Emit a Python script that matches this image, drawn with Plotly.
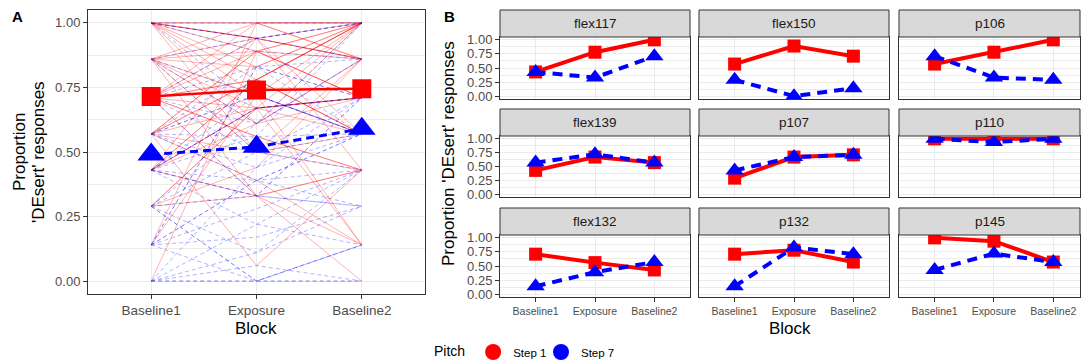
import plotly.graph_objects as go

W, H = 1082, 362
FONT = "Liberation Sans"

blocks = ["Baseline1", "Exposure", "Baseline2"]
y_ticks = [0, 0.25, 0.5, 0.75, 1.0]
y_tick_labels = ["0.00", "0.25", "0.50", "0.75", "1.00"]
pitch_labels = ["Step 1", "Step 7"]

# Panel A: group means
mean_step1 = [0.715, 0.74, 0.745]
mean_step7 = [0.49, 0.52, 0.59]

# Panel A: individual participants (Baseline1, Exposure, Baseline2)
indiv_step1 = [
    [1.00, 1.00, 1.00], [1.00, 0.94, 1.00], [1.00, 0.89, 0.86], [1.00, 0.78, 0.57],
    [1.00, 0.61, 0.71], [1.00, 0.94, 0.86], [1.00, 0.83, 1.00], [1.00, 0.50, 0.43],
    [0.86, 1.00, 1.00], [0.86, 0.89, 0.71], [0.86, 0.72, 1.00], [0.86, 0.61, 0.86],
    [0.86, 0.50, 0.57], [0.86, 0.94, 0.43], [0.86, 0.33, 0.14], [0.86, 0.83, 1.00],
    [0.86, 0.67, 0.14], [0.71, 0.89, 1.00], [0.71, 0.78, 0.57], [0.71, 0.56, 0.43],
    [0.71, 0.94, 0.86], [0.71, 0.67, 0.71], [0.71, 1.00, 0.86], [0.57, 0.06, 0.43],
    [0.57, 0.89, 0.71], [0.57, 0.78, 1.00], [0.57, 0.50, 0.86], [0.57, 0.39, 0.14],
    [0.57, 0.67, 1.00], [0.43, 0.78, 1.00], [0.43, 0.67, 0.71], [0.43, 0.94, 0.86],
    [0.43, 0.33, 0.43], [0.43, 0.61, 1.00], [0.29, 0.67, 0.71], [0.29, 0.33, 0.43],
    [0.29, 0.44, 0.86], [0.14, 1.00, 0.86], [0.14, 0.72, 0.57], [0.00, 0.89, 1.00],
    [0.71, 0.33, 0.00], [1.00, 0.72, 0.14],
]
indiv_step7 = [
    [1.00, 1.00, 1.00], [1.00, 0.94, 1.00], [1.00, 0.89, 0.86], [0.86, 0.72, 0.57],
    [0.86, 0.50, 0.71], [0.86, 0.94, 1.00], [0.71, 0.61, 0.86], [0.71, 0.50, 0.43],
    [0.71, 0.83, 0.57], [0.57, 0.72, 0.57], [0.57, 0.44, 0.71], [0.57, 0.39, 0.29],
    [0.57, 0.83, 0.86], [0.43, 0.56, 0.57], [0.43, 0.33, 0.71], [0.43, 0.67, 0.71],
    [0.43, 0.22, 0.14], [0.43, 0.39, 0.43], [0.29, 0.11, 0.43], [0.29, 0.50, 0.57],
    [0.29, 0.00, 0.14], [0.29, 0.33, 0.29], [0.29, 0.61, 0.86], [0.14, 0.39, 0.57],
    [0.14, 0.17, 0.29], [0.14, 0.00, 0.00], [0.14, 0.83, 0.71], [0.14, 0.28, 0.43],
    [0.00, 0.00, 0.00], [0.00, 0.00, 0.14], [0.00, 0.11, 0.29], [0.00, 0.22, 0.43],
    [0.00, 0.44, 0.57], [0.00, 0.06, 0.00], [0.86, 0.61, 1.00], [1.00, 0.67, 0.71],
    [0.71, 0.94, 0.86], [0.57, 0.56, 1.00],
]

# Panel B: selected participants
facet_names = ["flex117", "flex150", "p106",
               "flex139", "p107", "p110",
               "flex132", "p132", "p145"]
facet_step1 = [
    [0.43, 0.78, 1.00], [0.57, 0.89, 0.71], [0.57, 0.78, 1.00],
    [0.43, 0.67, 0.57], [0.29, 0.67, 0.71], [1.00, 1.00, 1.00],
    [0.71, 0.56, 0.43], [0.71, 0.78, 0.57], [1.00, 0.94, 0.57],
]
facet_step7 = [
    [0.43, 0.33, 0.71], [0.29, 0.00, 0.14], [0.71, 0.33, 0.29],
    [0.57, 0.72, 0.57], [0.43, 0.67, 0.71], [1.00, 0.94, 1.00],
    [0.14, 0.39, 0.57], [0.14, 0.83, 0.71], [0.43, 0.72, 0.57],
]

RED = "#FF0000"
BLUE = "#0000FF"
GRID = "#EBEBEB"
BORDER = "#333333"
TICKC = "#4D4D4D"


def fx(px):
    return px / W


def fy(py):
    return 1 - py / H


fig = go.Figure()


def joined(rows):
    xs, ys = [], []
    for r in rows:
        xs += blocks + [None]
        ys += list(r) + [None]
    return xs, ys


# ---- Panel A ----
all1 = indiv_step1 + facet_step1
all7 = indiv_step7 + facet_step7
xs, ys = joined(all1)
fig.add_trace(go.Scatter(x=xs, y=ys, mode="lines", xaxis="x", yaxis="y",
                         line=dict(color="rgba(255,0,0,0.3)", width=1.0),
                         showlegend=False, hoverinfo="skip"))
xs, ys = joined(all7)
fig.add_trace(go.Scatter(x=xs, y=ys, mode="lines", xaxis="x", yaxis="y",
                         line=dict(color="rgba(0,0,255,0.3)", width=1.0, dash="4px,3px"),
                         showlegend=False, hoverinfo="skip"))
fig.add_trace(go.Scatter(x=blocks, y=mean_step1, mode="lines+markers", xaxis="x", yaxis="y",
                         line=dict(color=RED, width=2.6),
                         marker=dict(symbol="square", size=19, color=RED),
                         showlegend=False))
fig.add_trace(go.Scatter(x=blocks, y=mean_step7, mode="lines+markers", xaxis="x", yaxis="y",
                         line=dict(color=BLUE, width=3, dash="8px,5px"),
                         marker=dict(symbol="triangle-up", size=24, color=BLUE),
                         showlegend=False))

layout = dict(
    width=W, height=H, margin=dict(l=0, r=0, t=0, b=0, autoexpand=False),
    paper_bgcolor="white", plot_bgcolor="white",
    font=dict(family=FONT, color="black"),
)


def yax(domain, show_labels, size):
    return dict(domain=domain, range=[-0.05, 1.05], tickvals=y_ticks, ticktext=y_tick_labels,
                showticklabels=show_labels, ticks="outside" if show_labels else "",
                ticklen=4, tickwidth=1, tickcolor=BORDER,
                tickfont=dict(size=size, color=TICKC, family=FONT),
                showgrid=True, gridcolor=GRID, gridwidth=1.1,
                minor=dict(tickvals=[0.125, 0.375, 0.625, 0.875], showgrid=True,
                           gridcolor=GRID, gridwidth=0.6, ticks=""),
                showline=True, mirror=True, linecolor=BORDER, linewidth=1,
                zeroline=False, fixedrange=True)


def xax(domain, anchor, rng, show_labels, size):
    return dict(domain=domain, anchor=anchor, type="category", categoryorder="array",
                categoryarray=blocks, range=rng,
                showticklabels=show_labels, ticks="outside" if show_labels else "",
                ticklen=4, tickwidth=1, tickcolor=BORDER,
                tickfont=dict(size=size, color=TICKC, family=FONT),
                showgrid=True, gridcolor=GRID, gridwidth=1.1,
                showline=True, mirror=True, linecolor=BORDER, linewidth=1,
                zeroline=False, fixedrange=True)


layout["xaxis"] = xax([fx(88), fx(425)], "y", [-0.6, 2.6], True, 13.5)
layout["yaxis"] = yax([fy(294), fy(10)], True, 13)
layout["yaxis"]["anchor"] = "x"

# ---- Panel B ----
col_px = [(500, 690), (699, 889), (899, 1080)]
col_rng = [[-0.6, 2.6], [-0.6, 2.6], [-0.6, 2.45]]
row_px = [(37, 99), (136, 197), (235, 297)]
strip_px = [(10, 37), (109, 136), (208, 235)]

shapes = []
annotations = []
for i, name in enumerate(facet_names):
    r, c = divmod(i, 3)
    n = i + 2
    xa, ya = f"x{n}", f"y{n}"
    layout[f"xaxis{n}"] = xax([fx(col_px[c][0]), fx(col_px[c][1])], ya, col_rng[c], r == 2, 10.5)
    yd = yax([fy(row_px[r][1]), fy(row_px[r][0])], c == 0, 13)
    yd["anchor"] = xa
    layout[f"yaxis{n}"] = yd
    fig.add_trace(go.Scatter(x=blocks, y=facet_step1[i], mode="lines+markers", xaxis=xa, yaxis=ya,
                             line=dict(color=RED, width=4),
                             marker=dict(symbol="square", size=13, color=RED),
                             showlegend=False))
    fig.add_trace(go.Scatter(x=blocks, y=facet_step7[i], mode="lines+markers", xaxis=xa, yaxis=ya,
                             line=dict(color=BLUE, width=4, dash="10px,7px"),
                             marker=dict(symbol="triangle-up", size=16, color=BLUE),
                             showlegend=False))
    shapes.append(dict(type="rect", xref="paper", yref="paper",
                       x0=fx(col_px[c][0]), x1=fx(col_px[c][1]),
                       y0=fy(strip_px[r][1]), y1=fy(strip_px[r][0]),
                       fillcolor="#D9D9D9", line=dict(color=BORDER, width=1)))
    annotations.append(dict(text=name, xref="paper", yref="paper",
                            x=fx((col_px[c][0] + col_px[c][1]) / 2),
                            y=fy((strip_px[r][0] + strip_px[r][1]) / 2),
                            showarrow=False, xanchor="center", yanchor="middle",
                            font=dict(size=13.5, color="#1A1A1A", family=FONT)))

# Legend traces (two legends so the spacing can match)
fig.add_trace(go.Scatter(x=[None], y=[None], mode="markers", name=pitch_labels[0],
                         marker=dict(symbol="circle", size=16, color=RED), xaxis="x", yaxis="y",
                         legend="legend"))
fig.add_trace(go.Scatter(x=[None], y=[None], mode="markers", name=pitch_labels[1],
                         marker=dict(symbol="circle", size=16, color=BLUE), xaxis="x", yaxis="y",
                         legend="legend2"))

layout["legend"] = dict(orientation="h", x=fx(432), y=fy(352), xanchor="left", yanchor="middle",
                        title=dict(text="Pitch", font=dict(size=14, family=FONT)),
                        font=dict(size=11.5, family=FONT), itemwidth=30,
                        bgcolor="rgba(0,0,0,0)")
layout["legend2"] = dict(orientation="h", x=fx(541), y=fy(352), xanchor="left", yanchor="middle",
                         font=dict(size=11.5, family=FONT), itemwidth=30,
                         bgcolor="rgba(0,0,0,0)")

# Titles and panel tags
annotations += [
    dict(text="<b>A</b>", x=fx(10), y=fy(16), xanchor="left", yanchor="middle",
         font=dict(size=15, family=FONT), showarrow=False, xref="paper", yref="paper"),
    dict(text="<b>B</b>", x=fx(442), y=fy(16), xanchor="left", yanchor="middle",
         font=dict(size=15, family=FONT), showarrow=False, xref="paper", yref="paper"),
    dict(text="Block", x=fx(256), y=fy(328), xanchor="center", yanchor="middle",
         font=dict(size=17, family=FONT), showarrow=False, xref="paper", yref="paper"),
    dict(text="Block", x=fx(790), y=fy(328), xanchor="center", yanchor="middle",
         font=dict(size=17, family=FONT), showarrow=False, xref="paper", yref="paper"),
    dict(text="Proportion", x=fx(19), y=fy(152), xanchor="center", yanchor="middle", textangle=-90,
         font=dict(size=17, family=FONT), showarrow=False, xref="paper", yref="paper"),
    dict(text="'DEsert' responses", x=fx(38), y=fy(152), xanchor="center", yanchor="middle",
         textangle=-90, font=dict(size=17, family=FONT), showarrow=False, xref="paper", yref="paper"),
    dict(text="Proportion 'DEsert' responses", x=fx(448), y=fy(154), xanchor="center",
         yanchor="middle", textangle=-90, font=dict(size=17, family=FONT), showarrow=False,
         xref="paper", yref="paper"),
]

layout["shapes"] = shapes
layout["annotations"] = annotations
fig.update_layout(**layout)

fig.write_html("out.html", config={"displayModeBar": False},
               post_script="document.body.style.margin='0px';")
